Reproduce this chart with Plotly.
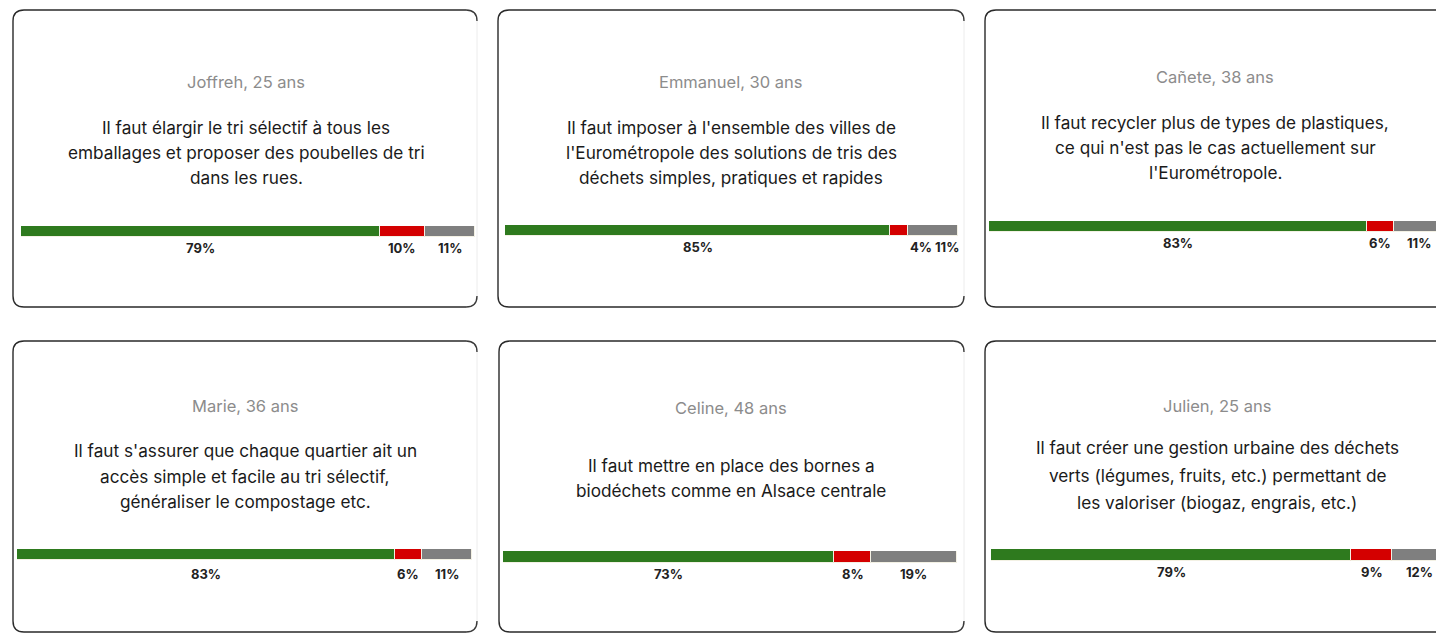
import plotly.graph_objects as go

# ---- data -------------------------------------------------------------
names = ["Joffreh, 25 ans", "Emmanuel, 30 ans", "Cañete, 38 ans",
         "Marie, 36 ans", "Celine, 48 ans", "Julien, 25 ans"]

quotes = [
    ["Il faut élargir le tri sélectif à tous les",
     "emballages et proposer des poubelles de tri",
     "dans les rues."],
    ["Il faut imposer à l'ensemble des villes de",
     "l'Eurométropole des solutions de tris des",
     "déchets simples, pratiques et rapides"],
    ["Il faut recycler plus de types de plastiques,",
     "ce qui n'est pas le cas actuellement sur",
     "l'Eurométropole."],
    ["Il faut s'assurer que chaque quartier ait un",
     "accès simple et facile au tri sélectif,",
     "généraliser le compostage etc."],
    ["Il faut mettre en place des bornes a",
     "biodéchets comme en Alsace centrale"],
    ["Il faut créer une gestion urbaine des déchets",
     "verts (légumes, fruits, etc.) permettant de",
     "les valoriser (biogaz, engrais, etc.)"],
]

pour = [79, 85, 83, 83, 73, 79]
contre = [10, 4, 6, 6, 8, 9]
neutre = [11, 11, 11, 11, 19, 12]

# ---- layout geometry (pixels) -----------------------------------------
W, H = 1436, 633
cards = [  # left, top, right, bottom
    (13, 10, 477, 307), (498, 10, 964, 307), (985, 10, 1460, 307),
    (13, 341, 477, 632), (499, 341, 964, 632), (985, 341, 1460, 632),
]
bars = [  # left, right (full 100 %), top, bottom
    (21, 475, 226, 237), (505, 958, 225, 236), (989, 1444, 221, 232),
    (17, 472, 549, 560), (503, 957, 551, 563), (991, 1447, 549, 561),
]
text_x = [246, 731, 1215, 245, 731, 1217]
name_y = [82, 82, 77, 406, 408, 406]
line_y = [[127, 152, 177], [127, 152, 177], [122, 147, 172],
          [451, 476, 501], [465, 490], [447, 475, 503]]
label_y = [248, 247, 243, 574, 574, 572]
# horizontal nudge (px) of the percent labels, used where a narrow
# segment would crowd its neighbour
label_shift = [[0, 0, 0], [0, 22, 14], [0, 0, 0],
               [0, 0, 0], [0, 0, 0], [0, 0, 0]]

GREEN, RED, GREY = "#2e7a1e", "#d40000", "#7f7f7f"
FONT = "Inter"


def fx(x):
    return x / W


def fy(y):
    return 1 - y / H


fig = go.Figure()
shapes = []
annotations = []

for i in range(6):
    L, T, R, B = cards[i]
    r = 11
    # card outline: dark on left/top/bottom, faint on right
    path = (f"M {fx(R - r)},{fy(T)} L {fx(L + r)},{fy(T)} "
            f"Q {fx(L)},{fy(T)} {fx(L)},{fy(T + r)} "
            f"L {fx(L)},{fy(B - r)} "
            f"Q {fx(L)},{fy(B)} {fx(L + r)},{fy(B)} "
            f"L {fx(R - r)},{fy(B)}")
    shapes.append(dict(type="path", path=path, xref="paper", yref="paper",
                       line=dict(color="#2a2a2a", width=1.4)))
    if R < W:
        shapes.append(dict(type="path", xref="paper", yref="paper",
                           path=(f"M {fx(R - r)},{fy(T)} Q {fx(R)},{fy(T)} {fx(R)},{fy(T + r)}"),
                           line=dict(color="#3a3a3a", width=1.4)))
        shapes.append(dict(type="path", xref="paper", yref="paper",
                           path=(f"M {fx(R - r)},{fy(B)} Q {fx(R)},{fy(B)} {fx(R)},{fy(B - r)}"),
                           line=dict(color="#3a3a3a", width=1.4)))
        shapes.append(dict(type="line", xref="paper", yref="paper",
                           x0=fx(R), x1=fx(R), y0=fy(T + r), y1=fy(B - r),
                           line=dict(color="#ececec", width=1)))

    # stacked bar
    bl, br, bt, bb = bars[i]
    ax = "" if i == 0 else str(i + 1)
    full = br - bl
    visible = min(br, W) - bl
    xmax = 100 * visible / full
    dom_x = [fx(bl), fx(bl + visible)]
    dom_y = [fy(bb), fy(bt)]
    fig.update_layout(**{
        f"xaxis{ax}": dict(domain=dom_x, range=[0, xmax], visible=False,
                           fixedrange=True),
        f"yaxis{ax}": dict(domain=dom_y, range=[-0.5, 0.5], visible=False,
                           fixedrange=True, anchor=f"x{ax}"),
    })
    vals = [pour[i], contre[i], neutre[i]]
    cols = [GREEN, RED, GREY]
    start = 0
    for k, (v, c) in enumerate(zip(vals, cols)):
        fig.add_trace(go.Bar(
            x=[v], y=[0], base=[start], orientation="h", width=1,
            marker=dict(color=c, line=dict(color="#f3f1e4", width=1)),
            xaxis=f"x{ax}", yaxis=f"y{ax}", showlegend=False,
            hoverinfo="skip"))
        annotations.append(dict(
            x=start + v / 2, xref=f"x{ax}", y=fy(label_y[i]), yref="paper",
            xshift=label_shift[i][k],
            text=f"<b>{v}%</b>", showarrow=False, xanchor="center",
            yanchor="middle",
            font=dict(family=FONT, size=13, color="#222222")))
        start += v

    # name and quote
    annotations.append(dict(
        x=fx(text_x[i]), y=fy(name_y[i]), xref="paper", yref="paper",
        text=names[i], showarrow=False, xanchor="center", yanchor="middle",
        font=dict(family=FONT, size=16.5, color="#8c8c8c")))
    for line, ly in zip(quotes[i], line_y[i]):
        annotations.append(dict(
            x=fx(text_x[i]), y=fy(ly), xref="paper", yref="paper",
            text=line, showarrow=False, xanchor="center", yanchor="middle",
            font=dict(family=FONT, size=17.2, color="#1a1a1a")))

fig.update_layout(
    width=W, height=H, margin=dict(l=0, r=0, t=0, b=0),
    paper_bgcolor="white", plot_bgcolor="rgba(0,0,0,0)",
    barmode="overlay", bargap=0,
    shapes=shapes, annotations=annotations,
)

fig.write_html("out.html", config={"displayModeBar": False})
